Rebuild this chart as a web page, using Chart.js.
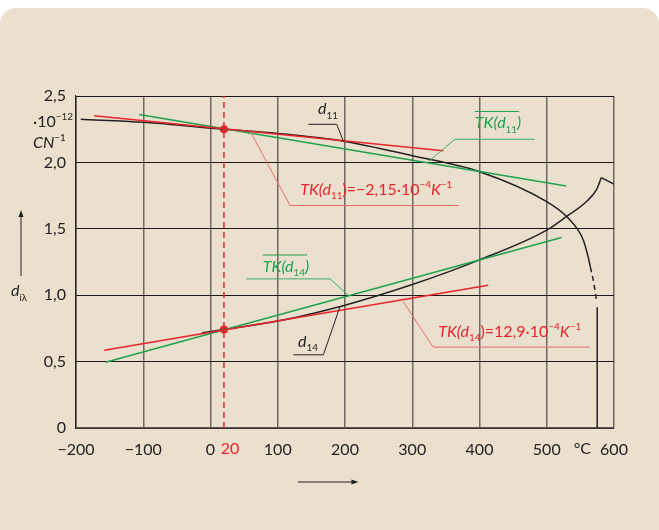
<!DOCTYPE html>
<html>
<head>
<meta charset="utf-8">
<script src="https://cdn.jsdelivr.net/npm/chart.js@4.4.0/dist/chart.umd.min.js"></script>
<style>
  html, body { margin: 0; background: #fff; }
  #wrap { position: relative; width: 659px; height: 530px; overflow: hidden; }
  #panel { position: absolute; left: 0; top: 8px; width: 659px; height: 560px; background: #ebe0cd; border-radius: 16px; }
  canvas { position: absolute; left: 0; top: 0; }
</style>
</head>
<body>
<div id="wrap">
  <div id="panel"></div>
  <canvas id="chart" width="659" height="530"></canvas>
</div>
<script>
// Temperature (°C) and piezo modulus values (10^-12 C/N)
const d11T = [-193, -100, 20, 100, 200, 300, 400, 500, 530, 554, 561, 565];
const d11V = [2.325, 2.302, 2.25, 2.218, 2.158, 2.05, 1.93, 1.705, 1.59, 1.42, 1.3, 1.21];
const d11DashT = [565, 570, 574];
const d11DashV = [1.21, 1.09, 0.96];
const d11DropT = [575, 575];
const d11DropV = [0.91, 0];

const d14T = [-13, 20, 100, 200, 300, 400, 500, 530, 560, 574, 581];
const d14V = [0.715, 0.742, 0.805, 0.925, 1.08, 1.266, 1.49, 1.595, 1.71, 1.795, 1.885];
const d14TailT = [581, 600];
const d14TailV = [1.885, 1.836];

// tangents at 20 °C (red) and mean slopes (green)
const tk11T = [-173, 346];
const tk11V = [2.352, 2.088];
const tk11MeanT = [-106, 529];
const tk11MeanV = [2.36, 1.822];
const tk14T = [-158, 413];
const tk14V = [0.585, 1.075];
const tk14MeanT = [-156, 522];
const tk14MeanV = [0.495, 1.435];

const refT = 20;
const refV = [2.25, 0.742];

const xTicks = [-200, -100, 0, 100, 200, 300, 400, 500, 600];
const yTicks = [0, 0.5, 1, 1.5, 2, 2.5];
const yTickLabels = ['0', '0,5', '1,0', '1,5', '2,0', '2,5'];

const RED = '#e8242c';
const GREEN = '#1ea24f';
const BLACK = '#222';
const FONT = 'Lato, "Open Sans", sans-serif';

const pts = (ts, vs) => ts.map((t, i) => ({ x: t, y: vs[i] }));

function line(ts, vs, color, extra) {
    return Object.assign({
        data: pts(ts, vs),
        showLine: true,
        borderColor: color,
        borderWidth: 1.5,
        pointRadius: 0,
        fill: false
    }, extra || {});
}

// rich text: parts with italic / sub / sup
function richText(ctx, x, y, parts, color, size) {
    ctx.save();
    ctx.fillStyle = color;
    ctx.textBaseline = 'middle';
    ctx.textAlign = 'left';
    let cx = x;
    for (const p of parts) {
        const s = (p.sub || p.sup) ? size * 0.62 : size;
        const dy = p.sub ? size * 0.4 : p.sup ? -size * 0.32 : 0;
        ctx.font = (p.it ? 'italic ' : '') + s + 'px ' + FONT;
        ctx.fillText(p.t, cx, y + dy);
        cx += ctx.measureText(p.t).width;
    }
    ctx.restore();
    return cx - x;
}

const tkParts = sub => [{ t: 'TK(d', it: 1 }, { t: sub, sub: 1 }, { t: ')', it: 1 }];
const notes = [
    { parts: [{ t: 'd', it: 1 }, { t: '11', sub: 1 }], at: [159.9, 2.40], color: BLACK,
      leader: [[197.5, 187.7, 145.5], [2.161, 2.287, 2.287]], leaderColor: '#222' },
    { parts: tkParts('11'), at: [393, 2.297], color: GREEN, overline: true,
      leader: [[323.7, 363.4, 482.2], [2.006, 2.174, 2.174]], leaderColor: '#3cb068' },
    { parts: [{ t: 'TK(d', it: 1 }, { t: '11', sub: 1 }, { t: ')=−2,15·10' }, { t: '−4', sup: 1 }, { t: 'K', it: 1 }, { t: '−1', sup: 1 }],
      at: [133.3, 1.793], color: RED,
      leader: [[59.9, 118.3, 369.8], [2.227, 1.675, 1.675]], leaderColor: '#ef6b6b' },
    { parts: tkParts('14'), at: [77.7, 1.216], color: GREEN, overline: true,
      leader: [[204.9, 177.7, 53], [0.998, 1.123, 1.123]], leaderColor: '#3cb068' },
    { parts: [{ t: 'd', it: 1 }, { t: '14', sub: 1 }], at: [130.2, 0.651], color: BLACK,
      leader: [[192.6, 167.8, 123.2], [0.915, 0.551, 0.551]], leaderColor: '#222' },
    { parts: [{ t: 'TK(d', it: 1 }, { t: '14', sub: 1 }, { t: ')=12,9·10' }, { t: '−4', sup: 1 }, { t: 'K', it: 1 }, { t: '−1', sup: 1 }],
      at: [338.6, 0.727], color: RED,
      leader: [[286.5, 331.1, 563.9], [0.952, 0.609, 0.609]], leaderColor: '#ef6b6b' }
];

const annotations = {
    id: 'annotations',
    afterDatasetsDraw(chart) {
        const { ctx, chartArea: a } = chart;
        const xs = chart.scales.x, ys = chart.scales.y;
        const px = t => xs.getPixelForValue(t), py = v => ys.getPixelForValue(v);

        for (const n of notes) {
            ctx.save();
            ctx.strokeStyle = n.leaderColor;
            ctx.lineWidth = 1;
            ctx.beginPath();
            n.leader[0].forEach((t, i) => {
                const X = px(t), Y = py(n.leader[1][i]);
                i ? ctx.lineTo(X, Y) : ctx.moveTo(X, Y);
            });
            ctx.stroke();
            const x0 = px(n.at[0]), y0 = py(n.at[1]);
            const w = richText(ctx, x0, y0, n.parts, n.color, 16);
            if (n.overline) {
                ctx.strokeStyle = n.color;
                ctx.beginPath();
                ctx.moveTo(x0, y0 - 11.5);
                ctx.lineTo(x0 + w - 2, y0 - 11.5);
                ctx.stroke();
            }
            ctx.restore();
        }

        // unit next to y axis
        richText(ctx, a.left - 43, py(2.307), [{ t: '·10' }, { t: '−12', sup: 1 }], BLACK, 16);
        richText(ctx, a.left - 43, py(2.146), [{ t: 'CN', it: 1 }, { t: '−1', sup: 1 }], BLACK, 16);
        // y axis title and arrow
        richText(ctx, a.left - 65, py(1.03), [{ t: 'd', it: 1 }, { t: 'iλ', sub: 1 }], BLACK, 16);
        ctx.save();
        ctx.strokeStyle = BLACK; ctx.fillStyle = BLACK; ctx.lineWidth = 1;
        const ax = a.left - 55, ayTop = py(1.642), ayBot = py(1.146);
        ctx.beginPath(); ctx.moveTo(ax, ayBot); ctx.lineTo(ax, ayTop + 5); ctx.stroke();
        ctx.beginPath(); ctx.moveTo(ax, ayTop); ctx.lineTo(ax - 2.5, ayTop + 7); ctx.lineTo(ax + 2.5, ayTop + 7); ctx.closePath(); ctx.fill();
        // x axis arrow
        const bx0 = px(130), bx1 = px(220), by = a.bottom + 54;
        ctx.beginPath(); ctx.moveTo(bx0, by); ctx.lineTo(bx1 - 5, by); ctx.stroke();
        ctx.beginPath(); ctx.moveTo(bx1, by); ctx.lineTo(bx1 - 7, by - 2.5); ctx.lineTo(bx1 - 7, by + 2.5); ctx.closePath(); ctx.fill();
        // extra x labels
        ctx.font = '16px ' + FONT;
        ctx.textBaseline = 'middle';
        ctx.textAlign = 'center';
        ctx.fillStyle = RED;
        ctx.fillText(String(refT), px(refT) + 6, a.bottom + 21);
        ctx.fillStyle = BLACK;
        ctx.fillText('°C', px(553), a.bottom + 21);
        ctx.restore();
    }
};

new Chart(document.getElementById('chart'), {
    type: 'scatter',
    data: {
        datasets: [
            line([refT, refT], [0, 2.5], RED, { borderDash: [6, 4], borderWidth: 1.5 }),
            line(tk11T, tk11V, RED),
            line(tk11MeanT, tk11MeanV, GREEN),
            line(tk14T, tk14V, RED),
            line(tk14MeanT, tk14MeanV, GREEN),
            line(d11T, d11V, BLACK, { cubicInterpolationMode: 'monotone' }),
            line(d11DashT, d11DashV, BLACK, { borderDash: [5, 4], cubicInterpolationMode: 'monotone' }),
            line(d11DropT, d11DropV, BLACK),
            line(d14T, d14V, BLACK, { cubicInterpolationMode: 'monotone' }),
            line(d14TailT, d14TailV, BLACK),
            { data: refV.map(v => ({ x: refT, y: v })), pointRadius: 4, pointBackgroundColor: RED, pointBorderWidth: 0, showLine: false }
        ]
    },
    options: {
        responsive: false,
        animation: false,
        devicePixelRatio: 1,
        layout: { padding: { top: 96, right: 45, left: 0, bottom: 0 } },
        plugins: { legend: { display: false }, tooltip: { enabled: false } },
        scales: {
            x: {
                type: 'linear', min: -200, max: 600,
                afterBuildTicks: s => { s.ticks = xTicks.map(v => ({ value: v })); },
                afterFit: s => { s.height = 102; },
                ticks: {
                    autoSkip: false, maxRotation: 0, padding: 12,
                    color: BLACK, font: { family: FONT, size: 16 },
                    callback: v => String(v).replace('-', '−')
                },
                grid: {
                    drawTicks: false,
                    color: c => c.tick && c.tick.value === -200 ? '#222' : '#6f6861',
                    lineWidth: 1.5
                },
                border: { color: '#5a5550', width: 1.5 }
            },
            y: {
                min: 0, max: 2.5,
                afterBuildTicks: s => { s.ticks = yTicks.map(v => ({ value: v })); },
                afterFit: s => { s.width = 76; },
                ticks: {
                    padding: 10, color: BLACK, font: { family: FONT, size: 16 },
                    callback: v => yTickLabels[yTicks.indexOf(v)]
                },
                grid: { drawTicks: false, color: '#1a1a1a', lineWidth: 1 },
                border: { color: '#222', width: 1.2 }
            }
        }
    },
    plugins: [annotations]
});
</script>
</body>
</html>
